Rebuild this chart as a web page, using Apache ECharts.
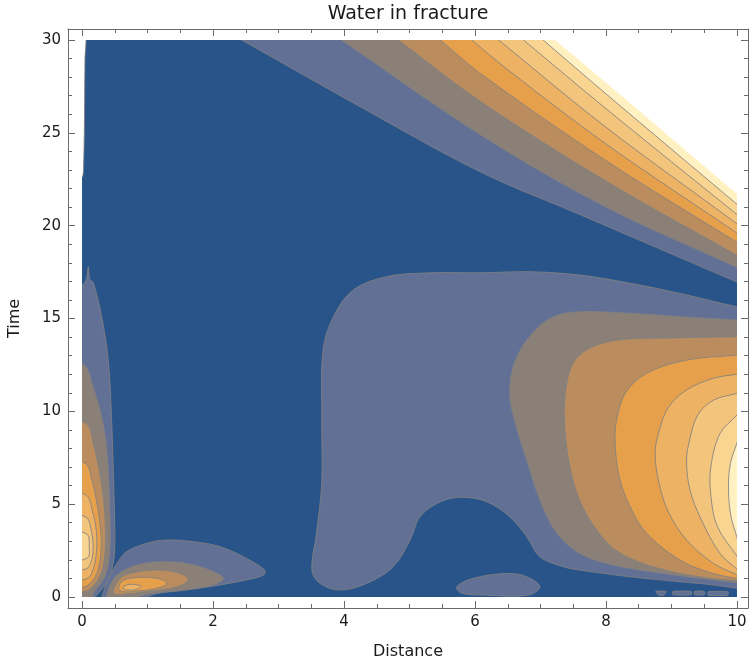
<!DOCTYPE html>
<html>
<head>
<meta charset="utf-8">
<title>Water in fracture</title>
<script src="https://cdn.jsdelivr.net/npm/echarts@6/dist/echarts.min.js"></script>
<style>
  html, body { margin: 0; padding: 0; background: #fff; }
  #main { width: 749px; height: 662px; }
</style>
</head>
<body>
<div id="main"></div>
<script>
// contour level colours, lowest (dark blue) to highest (pale yellow)
const levelColors = ['#28548a', '#627096', '#8b8078', '#bb8d5e', '#e6a04c', '#edb264', '#f3c47b', '#f9d591', '#fff1c1'];
const lineColor = 'rgba(128,128,128,0.85)';

// tick values
const xMajor = [0, 2, 4, 6, 8, 10];
const xMinor = [0.5, 1, 1.5, 2.5, 3, 3.5, 4.5, 5, 5.5, 6.5, 7, 7.5, 8.5, 9, 9.5];
const yMajor = [0, 5, 10, 15, 20, 25, 30];
const yMinor = [1, 2, 3, 4, 6, 7, 8, 9, 11, 12, 13, 14, 16, 17, 18, 19, 21, 22, 23, 24, 26, 27, 28, 29];

// top-right band: contour lines [distance, time] from the top edge down to the right edge
const bandL1 = [[2.44, 30], [4.2, 26.5], [6.08, 22.9], [7.6, 20.6], [10, 16.96]];
const bandL2 = [[3.96, 30], [6.08, 24.9], [8, 21.0], [10, 17.75]];
const bandL3 = [[4.83, 30], [6.08, 26.7], [8, 22.4], [10, 18.4]];
const bandL4 = [[5.47, 30], [6.08, 28.2], [8, 23.5], [10, 19.1]];
const bandL5 = [[5.95, 30], [6.5, 28.4], [8, 24.4], [10, 19.6]];
const bandL6 = [[6.36, 30], [8, 25.3], [10, 20.1]];
const bandL7 = [[6.74, 30], [8, 26.3], [10, 20.6]];
const bandL8 = [[7.04, 30], [8, 27.1], [10, 21.15]];
const bandTop = [[7.22, 30], [8, 27.7], [10, 21.7]];

// the large middle region (level 1)
const elephantL1 = [[3.51, 1.45], [3.58, 3.43], [3.66, 6.12], [3.66, 9.71], [3.68, 13.3], [3.84, 15.1], [4.14, 16.53],
  [4.65, 17.25], [5.31, 17.46], [6.08, 17.46], [6.84, 17.52], [7.6, 17.34], [8.37, 16.9], [9.13, 16.35], [10, 15.63],
  [10.6, 15.2], [10.6, 0.2], [10, 0.47], [9.64, 0.65], [9.13, 0.82], [8.37, 1.09], [7.6, 1.45], [7.35, 1.63],
  [6.99, 2.17], [6.79, 3.25], [6.53, 4.32], [6.18, 5.13], [5.8, 5.37], [5.47, 5.13], [5.16, 4.32], [5.01, 3.07],
  [4.75, 1.63], [4.35, 0.74], [3.94, 0.38], [3.63, 0.74]];
const blobL1 = [[5.72, 0.55], [5.97, 1.0], [6.48, 1.27], [6.79, 1.09], [6.99, 0.55], [6.81, 0.1], [6.18, 0.1], [5.8, 0.2]];
const specks = [
  [[8.76, 0.3], [8.92, 0.3], [8.88, 0.1], [8.8, 0.1]],
  [[9.02, 0.3], [9.3, 0.3], [9.3, 0.12], [9.02, 0.12]],
  [[9.35, 0.3], [9.5, 0.3], [9.5, 0.12], [9.35, 0.12]],
  [[9.56, 0.28], [9.86, 0.28], [9.86, 0.1], [9.56, 0.1]]
];

// right lobe, contour lines from the right edge round to the right edge
const lobeR2 = [[10, 14.92], [9.13, 15.1], [8.37, 15.28], [7.6, 15.37], [7.2, 15.1], [6.9, 14.3], [6.62, 12.8], [6.53, 10.97],
  [6.63, 9.17], [6.79, 7.38], [6.99, 5.22], [7.25, 3.43], [7.6, 2.35], [8.11, 1.72], [8.87, 1.27], [9.64, 0.92], [10, 0.77]];
const lobeR3 = [[10, 14.02], [9.0, 13.95], [8.2, 13.85], [7.75, 13.4], [7.5, 12.6], [7.38, 11.0], [7.37, 9.17], [7.45, 7.0],
  [7.6, 5.2], [7.86, 3.6], [8.2, 2.4], [8.8, 1.55], [9.5, 1.05], [10, 0.88]];
const lobeR4 = [[10, 13.03], [9.23, 12.76], [8.62, 12.05], [8.3, 11.0], [8.16, 9.5], [8.14, 8.28], [8.2, 6.5], [8.35, 5.0],
  [8.62, 3.43], [9.13, 1.99], [9.6, 1.3], [10, 1.0]];
const lobeR5 = [[10, 12.0], [9.64, 11.78], [9.23, 11.15], [8.95, 10.2], [8.8, 8.8], [8.75, 7.74], [8.8, 6.3], [8.95, 4.6],
  [9.23, 3.07], [9.64, 1.81], [10, 1.2]];
const lobeR6 = [[10, 10.97], [9.64, 10.6], [9.4, 9.8], [9.28, 8.5], [9.23, 7.38], [9.28, 5.8], [9.45, 4.2], [9.74, 2.35], [10, 1.5]];
const lobeR7 = [[10, 9.8], [9.74, 8.8], [9.6, 7.0], [9.6, 5.5], [9.7, 3.8], [10, 2.2]];
const lobeR8 = [[10, 8.3], [9.9, 7.2], [9.87, 6.0], [9.9, 4.5], [10, 3.2]];

// left lobe along distance 0
const lobeL1 = [[-0.3, 16.8], [0.0, 16.8], [0.07, 17.15], [0.095, 17.8], [0.12, 17.1], [0.17, 16.95], [0.3, 15.1], [0.4, 12.76],
  [0.45, 9.71], [0.49, 5.22], [0.5, 2.6], [0.47, 1.7], [0.41, 1.0], [0.3, 0.4], [0.2, 0], [0.15, -0.3], [-0.3, -0.3]];
const lobeL2 = [[-0.3, 12.5], [0.03, 12.5], [0.17, 11.3], [0.3, 9.7], [0.38, 7.9], [0.42, 5.2], [0.43, 3.0], [0.4, 1.7],
  [0.32, 0.9], [0.2, 0.35], [0.1, -0.3], [-0.3, -0.3]];
const lobeL3 = [[-0.3, 9.35], [0.06, 9.35], [0.17, 8.3], [0.27, 6.66], [0.33, 5.2], [0.36, 3.4], [0.34, 2.0], [0.27, 1.1],
  [0.15, 0.5], [0.05, 0.3], [-0.3, 0.3]];
const lobeL4 = [[-0.3, 7.2], [0.05, 7.2], [0.15, 6.3], [0.22, 5.2], [0.28, 3.8], [0.29, 2.5], [0.24, 1.4], [0.13, 0.75],
  [0.04, 0.55], [-0.3, 0.55]];
const lobeL5 = [[-0.3, 5.6], [0.06, 5.5], [0.16, 4.6], [0.22, 3.5], [0.22, 2.4], [0.17, 1.5], [0.08, 1.0], [-0.3, 0.95]];
const lobeL6 = [[-0.3, 4.4], [0.06, 4.3], [0.14, 3.6], [0.17, 2.6], [0.13, 1.8], [0.05, 1.5], [-0.3, 1.5]];
const lobeL7 = [[-0.3, 3.5], [0.07, 3.4], [0.11, 2.7], [0.08, 2.1], [-0.3, 2.0]];
const edgeGap = [[-0.3, 22.6], [0.0, 22.6], [0.025, 23.4], [0.035, 25], [0.04, 27], [0.045, 29], [0.045, 30.5], [-0.3, 30.5]];

// small lobe near the bottom left
const footL1 = [[0.3, -0.3], [0.33, 0.3], [0.38, 0.8], [0.45, 1.3], [0.56, 1.95], [0.68, 2.44], [0.99, 2.9], [1.29, 3.07],
  [1.7, 2.98], [2.11, 2.71], [2.51, 2.08], [2.79, 1.45], [2.77, 1.18], [2.51, 0.92], [2.11, 0.65], [1.6, 0.38], [1.1, 0.15], [0.8, -0.3]];
const footL2 = [[0.38, -0.3], [0.4, 0.38], [0.53, 1.18], [0.84, 1.72], [1.19, 1.9], [1.6, 1.81], [1.95, 1.45], [2.16, 1.0],
  [2.0, 0.65], [1.6, 0.4], [1.0, 0.15], [0.6, -0.3]];
const footL3 = [[0.48, 0.2], [0.5, 0.55], [0.61, 1.1], [0.89, 1.37], [1.19, 1.45], [1.5, 1.27], [1.62, 0.92], [1.45, 0.55],
  [0.99, 0.29], [0.62, 0.15]];
const footL4 = [[0.56, 0.45], [0.6, 0.82], [0.72, 1.0], [0.99, 1.06], [1.24, 0.92], [1.29, 0.7], [1.14, 0.47], [0.8, 0.3], [0.62, 0.3]];
const footL5 = [[0.63, 0.45], [0.66, 0.63], [0.8, 0.68], [0.9, 0.57], [0.84, 0.42], [0.7, 0.38]];

// close a line that runs from the top edge to the right edge round the top right corner
function bandRegion(c) {
  let p0 = c[0], p1 = c[1], pn = c[c.length - 1], pm = c[c.length - 2]
  let k0 = 1 / (p0[1] - p1[1])
  let top = [p0[0] + (p0[0] - p1[0]) * k0, p0[1] + (p0[1] - p1[1]) * k0]
  let k1 = 0.5 / (pn[0] - pm[0])
  let right = [pn[0] + (pn[0] - pm[0]) * k1, pn[1] + (pn[1] - pm[1]) * k1]
  return [top].concat(c, [right, [12, right[1]], [12, 33], [top[0], 33]])
}

// close a line that leaves and comes back to the right edge
function rightRegion(c) {
  let p0 = c[0], p1 = c[1], pn = c[c.length - 1], pm = c[c.length - 2]
  let k0 = 0.5 / (p0[0] - p1[0])
  let a = [p0[0] + (p0[0] - p1[0]) * k0, p0[1] + (p0[1] - p1[1]) * k0]
  let k1 = 0.5 / (pn[0] - pm[0])
  let b = [pn[0] + (pn[0] - pm[0]) * k1, pn[1] + (pn[1] - pm[1]) * k1]
  return [a].concat(c, [b, [12, b[1]], [12, a[1]]])
}

// painted in order, each level on top of the one below
let layers = [
  {lv: 0, pts: [[-1, -1], [11, -1], [11, 31], [-1, 31]], smooth: 0, line: false},
  {lv: 1, pts: bandRegion(bandL1)}, {lv: 1, pts: elephantL1}, {lv: 1, pts: lobeL1}, {lv: 1, pts: footL1}, {lv: 1, pts: blobL1},
  {lv: 2, pts: bandRegion(bandL2)}, {lv: 2, pts: rightRegion(lobeR2)}, {lv: 2, pts: lobeL2}, {lv: 2, pts: footL2},
  {lv: 3, pts: bandRegion(bandL3)}, {lv: 3, pts: rightRegion(lobeR3)}, {lv: 3, pts: lobeL3}, {lv: 3, pts: footL3},
  {lv: 4, pts: bandRegion(bandL4)}, {lv: 4, pts: rightRegion(lobeR4)}, {lv: 4, pts: lobeL4}, {lv: 4, pts: footL4},
  {lv: 5, pts: bandRegion(bandL5)}, {lv: 5, pts: rightRegion(lobeR5)}, {lv: 5, pts: lobeL5}, {lv: 5, pts: footL5},
  {lv: 6, pts: bandRegion(bandL6)}, {lv: 6, pts: rightRegion(lobeR6)}, {lv: 6, pts: lobeL6},
  {lv: 7, pts: bandRegion(bandL7)}, {lv: 7, pts: rightRegion(lobeR7)}, {lv: 7, pts: lobeL7},
  {lv: 8, pts: bandRegion(bandL8)}, {lv: 8, pts: rightRegion(lobeR8)},
  {lv: 9, pts: bandRegion(bandTop), line: false},
  {lv: 9, pts: edgeGap, smooth: 0.2}
]
specks.forEach(function(s) { layers.push({lv: 1, pts: s, smooth: 0.2}) })

function renderItem(params, api) {
  let item = layers[api.value(2)]
  let lt = api.coord([0, 30])
  let rb = api.coord([10, 0])
  return {
    type: 'polygon',
    shape: {
      points: item.pts.map(function(p) { return api.coord(p) }),
      smooth: item.smooth === undefined ? 0.35 : item.smooth
    },
    style: {
      fill: item.lv > 8 ? '#ffffff' : levelColors[item.lv],
      stroke: item.line === false ? 'none' : lineColor,
      lineWidth: 1
    },
    clipPath: {type: 'rect', shape: {x: lt[0], y: lt[1], width: rb[0] - lt[0], height: rb[1] - lt[1]}}
  }
}

const frameColor = '#6a6a6a';
const textColor = '#1a1a1a';
const font = 'DejaVu Sans';

function axis(pos, min, max, ticks, len, showLine, showLabels) {
  return {
    type: 'value',
    position: pos,
    min: min,
    max: max,
    axisLine: {show: showLine, onZero: false, lineStyle: {color: frameColor, width: 1}},
    axisTick: {show: true, inside: true, length: len, customValues: ticks, lineStyle: {color: frameColor, width: 1}},
    axisLabel: {show: showLabels, customValues: ticks, margin: 7, color: textColor, fontSize: 15, fontFamily: font},
    splitLine: {show: false}
  }
}

let xMin = -0.214, xMax = 10.168, yMin = -0.592, yMax = 30.592

let xBottom = axis('bottom', xMin, xMax, xMajor, 7, true, true)
xBottom.name = 'Distance'
xBottom.nameLocation = 'middle'
xBottom.nameGap = 36
xBottom.nameTextStyle = {fontSize: 16, color: textColor, fontFamily: font}

let yLeft = axis('left', yMin, yMax, yMajor, 7, true, true)
yLeft.name = 'Time'
yLeft.nameLocation = 'middle'
yLeft.nameGap = 45
yLeft.nameRotate = 90
yLeft.nameTextStyle = {fontSize: 16, color: textColor, fontFamily: font}

let chart = echarts.init(document.getElementById('main'))

chart.setOption({
  animation: false,
  grid: {left: 68, top: 29, width: 680, height: 579, containLabel: false, outerBoundsMode: 'none'},
  graphic: [{
    type: 'text', x: 408, y: 14,
    style: {text: 'Water in fracture', fill: textColor, fontSize: 19, fontFamily: font, align: 'center', verticalAlign: 'middle'}
  }],
  xAxis: [
    xBottom,
    axis('bottom', xMin, xMax, xMinor, 4, false, false),
    axis('top', xMin, xMax, xMajor, 7, true, false),
    axis('top', xMin, xMax, xMinor, 4, false, false)
  ],
  yAxis: [
    yLeft,
    axis('left', yMin, yMax, yMinor, 4, false, false),
    axis('right', yMin, yMax, yMajor, 7, true, false),
    axis('right', yMin, yMax, yMinor, 4, false, false)
  ],
  series: [{
    type: 'custom',
    xAxisIndex: 0,
    yAxisIndex: 0,
    silent: true,
    renderItem: renderItem,
    data: layers.map(function(l, i) { return [5, 15, i] })
  }]
})
</script>
</body>
</html>
